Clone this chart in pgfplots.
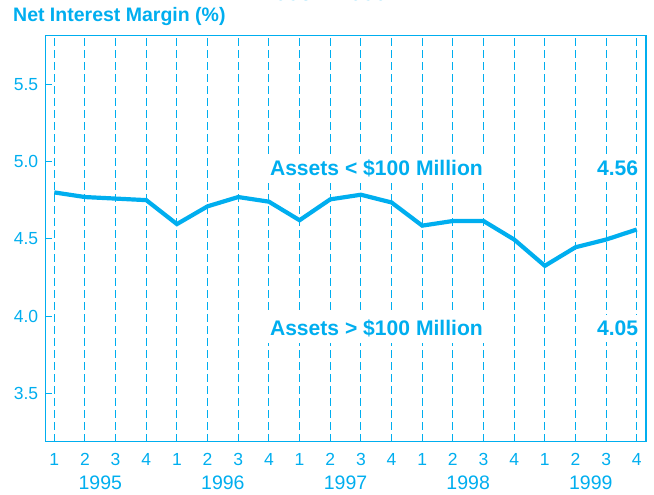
\documentclass[border=0pt]{standalone}
\usepackage{fontspec}
\setmainfont{Liberation Sans}
\usepackage{pgfplots}
\pgfplotsset{compat=1.18}
\definecolor{nimcyan}{RGB}{0,174,239}
\tikzset{
  yearlbl/.style={anchor=base, font=\fontsize{19.5}{23}\selectfont, text=nimcyan, yshift=-48.3pt},
  boldlbl/.style={font=\bfseries\fontsize{21.1}{25}\selectfont, text=nimcyan,
      fill=white, inner xsep=2pt, inner ysep=6pt},
}

\pgfplotstableread{
q   nim
0   4.80
1   4.77
2   4.76
3   4.75
4   4.595
5   4.71
6   4.77
7   4.74
8   4.62
9   4.755
10  4.785
11  4.735
12  4.585
13  4.615
14  4.615
15  4.495
16  4.325
17  4.445
18  4.495
19  4.56
}\smalldata

\begin{document}
\begin{tikzpicture}
\begin{axis}[
    at={(0pt,0pt)}, anchor=south west,
    scale only axis,
    width=600.3pt,
    height=406pt,
    xmin=-0.28, xmax=19.3,
    ymin=3.187, ymax=5.814,
    clip=false,
    axis line style={nimcyan, line width=1.3pt},
    xtick={0,...,19},
    xticklabels={1,2,3,4,1,2,3,4,1,2,3,4,1,2,3,4,1,2,3,4},
    xtick style={draw=none},
    xmajorgrids=true,
    major grid style={nimcyan, line width=1pt, dash pattern=on 8pt off 4pt},
    ytick={3.5,4.0,4.5,5.0,5.5},
    ytick pos=left,
    ytick style={nimcyan, line width=1pt},
    major tick length=6pt,
    tick align=inside,
    yticklabel style={/pgf/number format/fixed, /pgf/number format/fixed zerofill,
        /pgf/number format/precision=1, /pgf/number format/assume math mode=true,
        xshift=-4pt},
    xticklabel style={yshift=-8pt},
    tick label style={font=\fontsize{17.5}{20}\selectfont, text=nimcyan},
]
\addplot[nimcyan, line width=4.2pt] table[x=q, y=nim] {\smalldata};

\node[boldlbl, anchor=base west] at (axis cs:6.965,4.9075) {Assets < \$100 Million};
\node[boldlbl, anchor=base east] at (axis cs:19.115,4.9075) {4.56};
\node[boldlbl, anchor=base west] at (axis cs:6.965,3.873) {Assets > \$100 Million};
\node[boldlbl, anchor=base east] at (axis cs:19.115,3.873) {4.05};

% year labels under the quarters
\node[yearlbl] at (axis cs:1.5,3.187) {1995};
\node[yearlbl] at (axis cs:5.5,3.187) {1996};
\node[yearlbl] at (axis cs:9.5,3.187) {1997};
\node[yearlbl] at (axis cs:13.5,3.187) {1998};
\node[yearlbl] at (axis cs:17.5,3.187) {1999};

\node[anchor=base west, font=\bfseries\fontsize{19.5}{23}\selectfont, text=nimcyan, inner sep=0pt]
    at (rel axis cs:-0.0545,1.0345) {Net Interest Margin (\%)};
\node[anchor=base, font=\bfseries\fontsize{22.5}{26}\selectfont, text=nimcyan, inner sep=0pt]
    at (rel axis cs:0.465,1.0867) {1995 -- 1999};
\end{axis}
\pgfresetboundingbox
\path[use as bounding box] (-45.7pt,-53.3pt) rectangle (608.3pt,441.7pt);
\end{tikzpicture}
\end{document}
